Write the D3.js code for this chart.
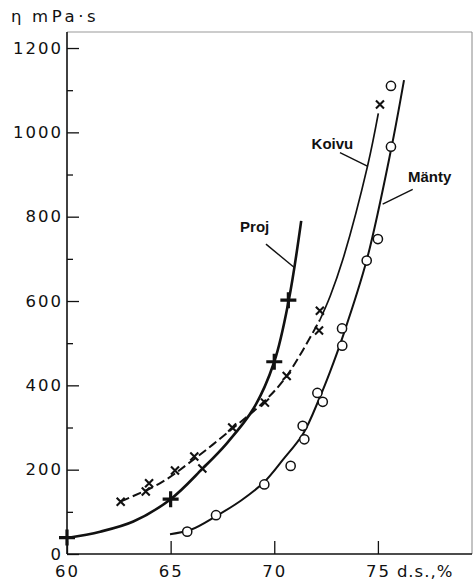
<!DOCTYPE html>
<html>
<head>
<meta charset="utf-8">
<script src="https://cdn.jsdelivr.net/npm/d3@7"></script>
<style>
  html, body { margin: 0; padding: 0; background: #fff; }
  svg { display: block; }
  .tick-label { font-family: "DejaVu Sans", sans-serif; font-size: 16.5px; letter-spacing: 2px; fill: #111; }
  .series-label { font-family: "Liberation Sans", Arial, sans-serif; font-weight: bold; font-size: 15px; fill: #111; }
</style>
</head>
<body>
<svg id="chart" width="475" height="583"></svg>
<script>
// Viscosity (mPa·s) versus dry solids content (%)
const xTicks = [60, 65, 70, 75];
const xTickLabels = ["60", "65", "70", "75"];
const yMajorTicks = [0, 200, 400, 600, 800, 1000, 1200];
const yTickLabels = ["0", "200", "400", "600", "800", "1000", "1200"];
const yMinorTicks = [100, 300, 500, 700, 900, 1100];

// measured points
const projPoints = [[60, 39], [65, 130], [70, 456], [70.68, 602]];
const koivuPoints = [[62.59, 124], [63.8, 148], [63.96, 168], [65.21, 198], [66.14, 231], [66.53, 203],
                     [67.97, 300], [69.55, 359], [70.6, 422], [72.16, 530], [72.2, 577], [75.1, 1066]];
const mantyPoints = [[65.8, 53], [67.19, 92], [69.52, 165], [70.79, 209], [71.45, 272], [71.37, 304],
                     [72.34, 361], [72.08, 382], [73.28, 494], [73.27, 535], [74.46, 696], [75.0, 747],
                     [75.63, 966], [75.63, 1110]];

// fitted curves
const projCurve = [[60, 38], [61.6, 53], [63.2, 77], [65, 130], [66.55, 203], [67.7, 262], [69, 345],
                   [70, 456], [70.7, 602], [71.3, 790]];
const koivuCurve = [[62.6, 125], [64.5, 168], [66, 220], [68, 298], [69.5, 361], [70.6, 422], [72.2, 555],
                    [72.7, 612], [73.3, 697], [74.5, 920], [75.02, 1045]];
const koivuDashedUntil = 72.2;
const mantyCurve = [[64.97, 47], [66, 58], [67.2, 90], [68.4, 127], [69.5, 170], [70.44, 225], [71.4, 286],
                    [72.2, 372], [72.69, 432], [73.3, 515], [74.46, 697], [75.63, 958], [76.26, 1124]];

// curve labels: text anchor point and leader line (from, to)
const labels = [
  { text: "Proj",  at: [68.35, 764], leader: [[69.6, 735], [70.95, 680]] },
  { text: "Koivu", at: [71.8, 960],  leader: [[73.17, 952], [74.49, 920]] },
  { text: "Mänty", at: [76.45, 882], leader: [[76.68, 865], [75.23, 830]] }
];

const svg = d3.select("#chart");
const x = d3.scaleLinear().domain([60, 79.54]).range([67, 472]);
const y = d3.scaleLinear().domain([0, 1238]).range([554, 32]);

// frame (top and right edges are faint)
svg.append("line").attr("x1", x(60)).attr("x2", x(79.54)).attr("y1", y(1238)).attr("y2", y(1238))
  .attr("stroke", "#999").attr("stroke-width", 1);
svg.append("line").attr("x1", x(79.54)).attr("x2", x(79.54)).attr("y1", y(1238)).attr("y2", y(0))
  .attr("stroke", "#888").attr("stroke-width", 1);

// y axis: major ticks with labels, minor ticks without
const yAxis = svg.append("g").attr("transform", `translate(${x(60)},0)`)
  .call(d3.axisLeft(y).tickValues(yMajorTicks).tickSize(-12).tickPadding(4).tickSizeOuter(0)
    .tickFormat((d, i) => yTickLabels[i]));
yAxis.select(".domain").remove();
yAxis.selectAll(".tick line").attr("stroke", "#111").attr("stroke-width", 1.3);
yAxis.selectAll(".tick text").attr("class", "tick-label").attr("font-family", null).attr("font-size", null);
const yMinor = svg.append("g").attr("transform", `translate(${x(60)},0)`)
  .call(d3.axisLeft(y).tickValues(yMinorTicks).tickSize(-6).tickFormat(""));
yMinor.select(".domain").remove();
yMinor.selectAll(".tick line").attr("stroke", "#111").attr("stroke-width", 1.3);

// x axis
const xAxis = svg.append("g").attr("transform", `translate(0,${y(0)})`)
  .call(d3.axisBottom(x).tickValues(xTicks).tickSize(-13).tickPadding(11)
    .tickFormat((d, i) => xTickLabels[i]));
xAxis.select(".domain").remove();
xAxis.selectAll(".tick line").attr("stroke", "#111").attr("stroke-width", 1.3);
xAxis.selectAll(".tick text").attr("class", "tick-label").attr("font-family", null).attr("font-size", null);

// axis lines
svg.append("line").attr("x1", x(60)).attr("x2", x(60)).attr("y1", y(1238)).attr("y2", y(0))
  .attr("stroke", "#111").attr("stroke-width", 1.6);
svg.append("line").attr("x1", x(60)).attr("x2", x(79.54)).attr("y1", y(0)).attr("y2", y(0))
  .attr("stroke", "#111").attr("stroke-width", 1.6);

// axis titles
svg.append("text").attr("class", "tick-label").attr("x", x(75) + 19).attr("y", y(0) + 11)
  .attr("dy", "0.71em").style("letter-spacing", "1px").text("d.s.,%");
svg.append("text").attr("class", "tick-label").attr("x", 11).attr("y", 22)
  .style("letter-spacing", "0px").text("η");
svg.append("text").attr("class", "tick-label").attr("x", 32).attr("y", 22)
  .style("letter-spacing", "3.6px").text("mPa·s");

// curves
const line = d3.line().x(d => x(d[0])).y(d => y(d[1])).curve(d3.curveCatmullRom.alpha(0.5));
svg.append("path").attr("d", line(projCurve)).attr("fill", "none")
  .attr("stroke", "#111").attr("stroke-width", 2.6);
svg.append("path").attr("d", line(koivuCurve.filter(d => d[0] <= koivuDashedUntil))).attr("fill", "none")
  .attr("stroke", "#111").attr("stroke-width", 2).attr("stroke-dasharray", "9,4");
svg.append("path").attr("d", line(koivuCurve.filter(d => d[0] >= koivuDashedUntil))).attr("fill", "none")
  .attr("stroke", "#111").attr("stroke-width", 1.7);
svg.append("path").attr("d", line(mantyCurve)).attr("fill", "none")
  .attr("stroke", "#111").attr("stroke-width", 2);

// markers
const plusSize = 8;
svg.append("g").selectAll("path").data(projPoints).join("path")
  .attr("d", d => `M${x(d[0]) - plusSize},${y(d[1])}H${x(d[0]) + plusSize}M${x(d[0])},${y(d[1]) - plusSize}V${y(d[1]) + plusSize}`)
  .attr("stroke", "#111").attr("stroke-width", 3.2);
const xs = 4;
svg.append("g").selectAll("path").data(koivuPoints).join("path")
  .attr("d", d => `M${x(d[0]) - xs},${y(d[1]) - xs}L${x(d[0]) + xs},${y(d[1]) + xs}M${x(d[0]) - xs},${y(d[1]) + xs}L${x(d[0]) + xs},${y(d[1]) - xs}`)
  .attr("stroke", "#111").attr("stroke-width", 2.1);
svg.append("g").selectAll("circle").data(mantyPoints).join("circle")
  .attr("cx", d => x(d[0])).attr("cy", d => y(d[1])).attr("r", 4.6)
  .attr("fill", "#fff").attr("stroke", "#111").attr("stroke-width", 1.5);

// labels with leader lines
labels.forEach(l => {
  svg.append("line")
    .attr("x1", x(l.leader[0][0])).attr("y1", y(l.leader[0][1]))
    .attr("x2", x(l.leader[1][0])).attr("y2", y(l.leader[1][1]))
    .attr("stroke", "#111").attr("stroke-width", 1.4);
  svg.append("text").attr("class", "series-label")
    .attr("x", x(l.at[0])).attr("y", y(l.at[1])).text(l.text);
});
</script>
</body>
</html>
